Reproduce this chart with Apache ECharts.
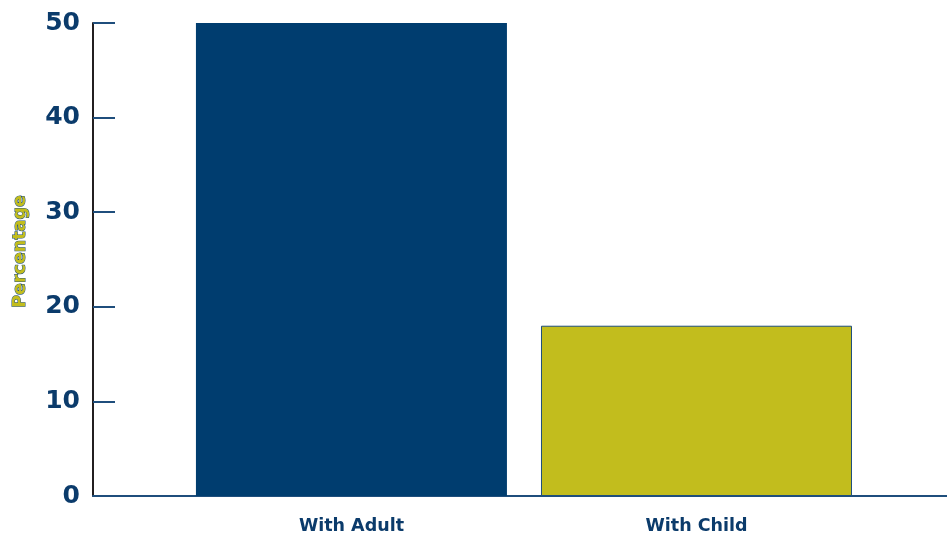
<!DOCTYPE html>
<html><head><meta charset="utf-8">
<script src="https://cdn.jsdelivr.net/npm/echarts@6/dist/echarts.min.js"></script>
<style>html,body{margin:0;padding:0;background:#fff}#c{width:947px;height:535px}</style>
</head><body><div id="c"></div>
<script>
const categories = ['With Adult', 'With Child'];
const values = [50, 18];
const yTicks = [0, 10, 20, 30, 40, 50];
const barColors = ['#003d6f', '#c2bd1d'];

const chart = echarts.init(document.getElementById('c'));
const F = 'DejaVu Sans';
chart.setOption({
  animation: false,
  grid: { left: 93, right: 0, top: 23, bottom: 39, containLabel: false, outerBoundsMode: 'none' },
  xAxis: {
    type: 'value', min: -0.749, max: 1.726,
    splitLine: { show: false },
    axisLine: { show: true, onZero: false, lineStyle: { color: '#1f4e7c', width: 2 } },
    axisTick: { show: false },
    axisLabel: {
      customValues: [0, 1],
      formatter: v => categories[Math.round(v)] || '',
      color: '#0b3b6b', fontFamily: F, fontWeight: 'bold', fontSize: 17.5, margin: 21
    }
  },
  yAxis: {
    type: 'value', min: 0, max: 50, interval: 10,
    name: 'Percentage', nameLocation: 'middle', nameGap: 64,
    nameTextStyle: { color: '#c2bd1d', fontFamily: F, fontWeight: 'bold', fontSize: 17.5,
      textBorderColor: '#1f4e7c', textBorderWidth: 1, padding: [0, 0, 0, 16] },
    splitLine: { show: false },
    axisLine: { show: true, onZero: false, lineStyle: { color: '#231f20', width: 2 } },
    axisTick: { show: true, inside: true, length: 22, lineStyle: { color: '#1f4e7c', width: 2 } },
    axisLabel: { color: '#0b3b6b', fontFamily: F, fontWeight: 'bold', fontSize: 25, margin: 13 }
  },
  series: [{
    type: 'bar',
    barWidth: 311,
    data: values.map((v, i) => ({
      value: [i, v],
      itemStyle: { color: barColors[i], borderColor: '#1f4e7c', borderWidth: i === 1 ? 1 : 0 }
    }))
  }]
});
</script></body></html>
